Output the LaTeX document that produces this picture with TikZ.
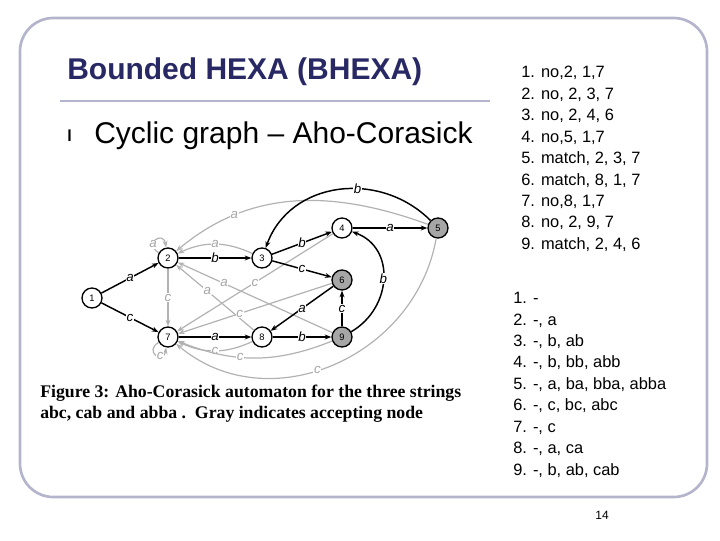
\documentclass[tikz,border=0pt]{standalone}
\usepackage{fontspec}
\setmainfont{Liberation Sans}
\newfontfamily\serifb{Liberation Serif}
\usetikzlibrary{arrows.meta}
\begin{document}
\begin{tikzpicture}[x=0.75pt,y=-0.75pt,
  st/.style={circle,draw,line width=1pt,minimum size=15pt,inner sep=0pt,font=\fontsize{7}{8}\selectfont,fill=white},
  acc/.style={st,fill=gray!70},
  bk/.style={-{Stealth[length=5pt]},line width=1.1pt},
  gr/.style={-{Stealth[length=5pt]},line width=0.9pt,gray!60},
  lb/.style={font=\fontsize{10}{10}\selectfont\itshape,fill=white,inner sep=0.5pt},
  lbg/.style={lb,text=gray!70},
  ltxt/.style={font=\fontsize{12.3}{16.1}\selectfont,align=left,anchor=north west,inner sep=0pt}]
\useasboundingbox (0,0) rectangle (720,540);
\draw[line width=2pt,color={rgb,255:red,180;green,180;blue,205},rounded corners=25pt] (20,18) rectangle (707,497);
\node[anchor=base west,inner sep=0pt,font=\fontsize{22.5}{24}\selectfont\bfseries,color={rgb,255:red,40;green,40;blue,100}] (title) at (67,79) {Bounded HEXA (BHEXA)};
\draw[line width=2pt,color={rgb,255:red,180;green,180;blue,205}] (60,101) coordinate (l1) -- (490,101) coordinate (l2);
\node[anchor=base west,inner sep=0pt,font=\fontsize{12}{12}\selectfont\bfseries] (bul) at (67,141) {l};
\node[anchor=base west,inner sep=0pt,font=\fontsize{22.5}{24}\selectfont] (bt) at (94,143) {Cyclic graph -- Aho-Corasick};
\node[ltxt] (list1) at (521,66) {1. no,2, 1,7\\2. no, 2, 3, 7\\3. no, 2, 4, 6\\4. no,5, 1,7\\5. match, 2, 3, 7\\6. match, 8, 1, 7\\7. no,8, 1,7\\8. no, 2, 9, 7\\9. match, 2, 4, 6};
\node[ltxt] (list2) at (513,292) {1. -\\2. -, a\\3. -, b, ab\\4. -, b, bb, abb\\5. -, a, ba, bba, abba\\6. -, c, bc, abc\\7. -, c\\8. -, a, ca\\9. -, b, ab, cab};
\node[font=\fontsize{9}{9}\selectfont] (pg) at (602,515) {14};
\node[anchor=north west,inner sep=0pt,align=left,font=\serifb\fontsize{13.3}{15.5}\selectfont\bfseries] (cap) at (40,385) {Figure 3: Aho-Corasick automaton for the three strings\\abc, cab and abba .\ \ Gray indicates accepting node};
% nodes
\node[st] (n1) at (92,298) {1};
\node[st] (n2) at (168,258) {2};
\node[st] (n3) at (262,258) {3};
\node[st] (n4) at (342,228) {4};
\node[acc] (n5) at (438,228) {5};
\node[acc] (n6) at (342,280) {6};
\node[st] (n7) at (168,337) {7};
\node[st] (n8) at (262,337) {8};
\node[acc] (n9) at (342,337) {9};
% gray edges
\draw[gr] (n2) to[out=150,in=100,looseness=5] node[lbg,pos=0.3]{a} (n2);
\draw[gr] (n7) to[out=210,in=260,looseness=5] node[lbg,pos=0.7]{c} (n7);
\draw[gr] (n2) -- node[lbg]{c} (n7);
\draw[gr] (n3) to[bend right=25] node[lbg]{a} (n2);
\draw[gr] (n5) to[out=160,in=40] node[lbg,pos=0.75]{a} (n2);
\draw[gr] (n8) -- node[lbg,pos=0.6]{a} (n2);
\draw[gr] (n9) -- node[lbg,pos=0.7]{a} (n2);
\draw[gr] (n4) -- node[lbg,pos=0.5]{c} (n7);
\draw[gr] (n6) -- node[lbg,pos=0.6]{c} (n7);
\draw[gr] (n8) to[bend left=25] node[lbg]{c} (n7);
\draw[gr] (n9) to[bend left=22] node[lbg,pos=0.6]{c} (n7);
\draw[gr] (n5) to[out=260,in=-40,looseness=1.1] node[lbg,pos=0.55]{c} (n7);
% black edges
\draw[bk] (n1) -- node[lb]{a} (n2);
\draw[bk] (n1) -- node[lb]{c} (n7);
\draw[bk] (n2) -- node[lb]{b} (n3);
\draw[bk] (n3) -- node[lb]{b} (n4);
\draw[bk] (n4) -- node[lb]{a} (n5);
\draw[bk] (n3) -- node[lb]{c} (n6);
\draw[bk] (n7) -- node[lb]{a} (n8);
\draw[bk] (n8) -- node[lb]{b} (n9);
\draw[bk] (n9) -- node[lb]{c} (n6);
\draw[bk] (n6) -- node[lb]{a} (n8);
\draw[bk] (n9) to[out=30,in=-20,looseness=1.2] node[lb]{b} (n4);
\draw[bk] (n5) to[out=135,in=70,looseness=1.1] node[lb,pos=0.4]{b} (n3);
\end{tikzpicture}
\end{document}
